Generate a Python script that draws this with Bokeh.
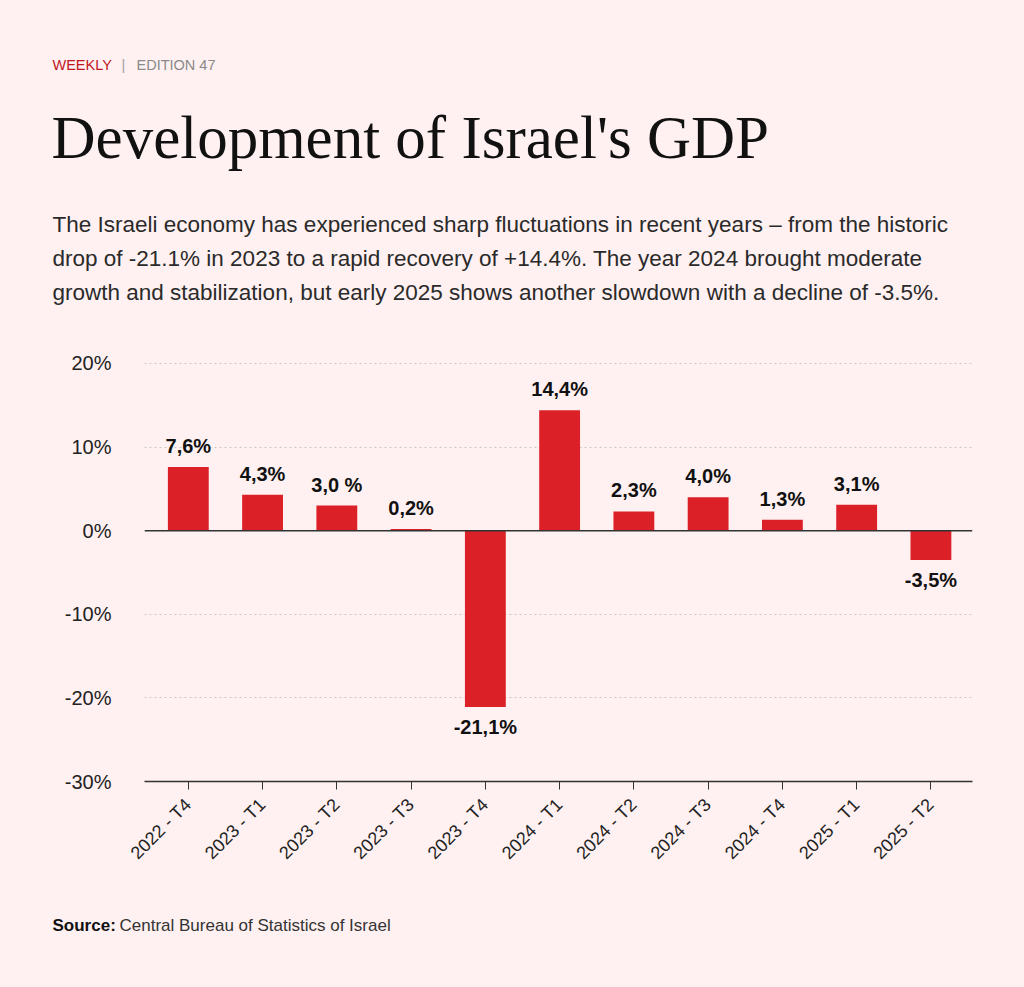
import math

from bokeh.plotting import figure
from bokeh.layouts import column
from bokeh.models import (ColumnDataSource, Range1d, FixedTicker, PrintfTickFormatter,
                          Label, Span)
from bokeh.core.properties import value
from bokeh.embed import file_html
from bokeh.resources import INLINE

# Data
quarters = ["2022 - T4", "2023 - T1", "2023 - T2", "2023 - T3", "2023 - T4", "2024 - T1",
            "2024 - T2", "2024 - T3", "2024 - T4", "2025 - T1", "2025 - T2"]
growth = [7.6, 4.3, 3.0, 0.2, -21.1, 14.4, 2.3, 4.0, 1.3, 3.1, -3.5]
bar_labels = ["7,6%", "4,3%", "3,0 %", "0,2%", "-21,1%", "14,4%",
              "2,3%", "4,0%", "1,3%", "3,1%", "-3,5%"]
y_ticks = [-30, -20, -10, 0, 10, 20]

BG = "#fff1f1"
RED = "#dc2027"
SANS = "Liberation Sans"
W = 1024


def text_panel(height):
    # blank figure whose data coordinates are pixels (y grows downward)
    f = figure(width=W, height=height, output_backend="svg", toolbar_location=None,
               x_range=Range1d(0, W), y_range=Range1d(height, 0),
               x_axis_type=None, y_axis_type=None, min_border=0, frame_align=False)
    f.background_fill_color = BG
    f.border_fill_color = BG
    f.outline_line_color = None
    return f


def add_text(f, x, y, text, size, color, font=SANS, style="normal"):
    f.add_layout(Label(x=x, y=y, text=text, text_font=font, text_font_size=size,
                       text_font_style=style, text_color=color,
                       text_baseline="alphabetic", text_align="left"))


# Header
head = text_panel(330)
add_text(head, 52, 64, "WEEKLY", "14.5px", "#c0171f")
add_text(head, 121, 64, "|", "14.5px", "#a0a0a0")
add_text(head, 136, 64, "EDITION 47", "14.5px", "#8a8a8a")
add_text(head, 51, 137, "Development of Israel's GDP", "61px", "#111111", font="Liberation Serif")
subtitle = [
    "The Israeli economy has experienced sharp fluctuations in recent years \u2013 from the historic",
    "drop of -21.1% in 2023 to a rapid recovery of +14.4%. The year 2024 brought moderate",
    "growth and stabilization, but early 2025 shows another slowdown with a decline of -3.5%.",
]
for i, line in enumerate(subtitle):
    add_text(head, 52, 224 + 34 * i, line, "22.5px", "#2a2a2a")

# Chart
xs = list(range(len(quarters)))
source = ColumnDataSource(data=dict(
    x=xs,
    growth=growth,
    label=bar_labels,
    offset=[-21 if v >= 0 else 20 for v in growth],
))

p = figure(width=W, height=570, output_backend="svg", toolbar_location=None,
           x_range=Range1d(-0.59, 10.56), y_range=Range1d(-30, 22.5), frame_align=False,
           min_border_left=144, min_border_right=52, min_border_top=12, min_border_bottom=119)
p.background_fill_color = BG
p.border_fill_color = BG
p.outline_line_color = None

p.vbar(x="x", top="growth", bottom=0, width=0.55, source=source,
       fill_color=RED, line_color=None)

p.text(x="x", y="growth", text="label", y_offset="offset", source=source,
       text_align="center", text_baseline="alphabetic",
       text_font=value(SANS), text_font_style="bold", text_font_size="20px",
       text_color="#111111")

p.add_layout(Span(location=0, dimension="width", line_color="#333333", line_width=1.5))

p.yaxis.ticker = FixedTicker(ticks=y_ticks)
p.yaxis.formatter = PrintfTickFormatter(format="%d%%")
p.yaxis.axis_line_color = None
p.yaxis.major_tick_line_color = None
p.yaxis.major_tick_out = 0
p.yaxis.major_tick_in = 0
p.yaxis.minor_tick_line_color = None
p.yaxis.major_label_standoff = 33
p.yaxis.major_label_text_font = SANS
p.yaxis.major_label_text_font_size = "20px"
p.yaxis.major_label_text_color = "#222222"

p.ygrid.ticker = FixedTicker(ticks=y_ticks)
p.ygrid.grid_line_color = "#c8c8c8"
p.ygrid.grid_line_dash = "2 3"
p.xgrid.visible = False

p.xaxis.ticker = FixedTicker(ticks=xs)
p.xaxis.major_label_overrides = {i: q for i, q in zip(xs, quarters)}
p.xaxis.major_label_orientation = math.pi / 4
p.xaxis.axis_line_color = "#333333"
p.xaxis.axis_line_width = 1.5
p.xaxis.major_tick_line_color = "#333333"
p.xaxis.major_tick_out = 8
p.xaxis.major_tick_in = 0
p.xaxis.minor_tick_line_color = None
p.xaxis.major_label_standoff = 12
p.xaxis.major_label_text_font = SANS
p.xaxis.major_label_text_font_size = "18px"
p.xaxis.major_label_text_color = "#222222"

# Footer
foot = text_panel(87)
add_text(foot, 52, 25, "Source:", "17px", "#111111", style="bold")
add_text(foot, 119, 25, "Central Bureau of Statistics of Israel", "17px", "#333333")

layout = column(head, p, foot, spacing=0, styles={"background-color": BG})
open("out.html", "w").write(file_html(layout, INLINE))
